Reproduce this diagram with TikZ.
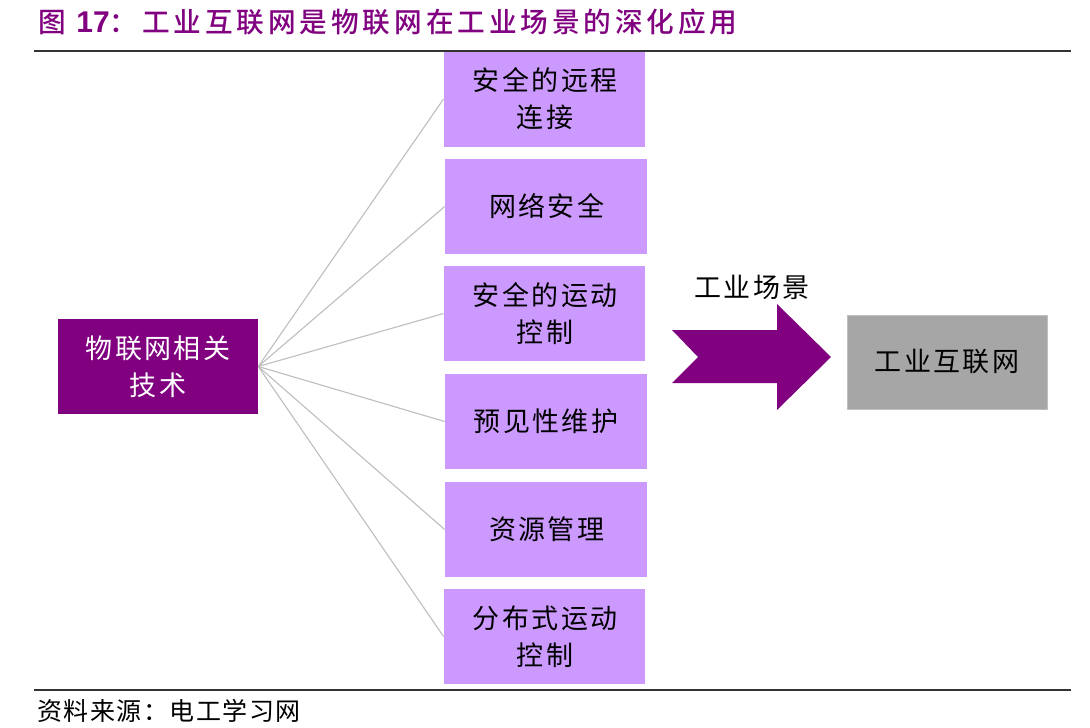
\documentclass[tikz,border=0pt]{standalone}
\usepackage{fontspec}
\setmainfont{Liberation Sans}
\newfontfamily\cjkbody[LetterSpace=9]{Noto Sans CJK SC}
\newfontfamily\cjktitle[LetterSpace=14]{Noto Sans CJK SC Medium}
\newfontfamily\cjkfoot[LetterSpace=6]{Noto Sans CJK SC}
\definecolor{deep}{HTML}{800080}
\definecolor{lilac}{HTML}{CC99FF}
\definecolor{midgrey}{HTML}{A6A6A6}
\definecolor{linkgrey}{HTML}{BFBFBF}
\definecolor{rulegrey}{HTML}{333333}
\tikzset{
  bodytext/.style={font=\cjkbody\fontsize{20.25pt}{27.6pt}\selectfont, align=center, text=black, inner sep=0pt},
  lilacbox/.style={fill=lilac, minimum width=151pt, minimum height=71.25pt, bodytext},
  widebox/.style={lilacbox, minimum width=151.6pt},
  link/.style={draw=linkgrey, line width=0.85pt},
  headrule/.style={draw=rulegrey, line width=1.1pt}
}
\begin{document}
\begin{tikzpicture}[x=0.75pt,y=-0.75pt]
\useasboundingbox (0,0) rectangle (1090,728);
\node[font=\fontsize{20.75pt}{24pt}\selectfont, text=deep, anchor=west, inner sep=0pt] (title) at (38,22)
  {{\cjktitle 图}\hspace{5pt}{\fontsize{22.5pt}{24pt}\selectfont\textbf{17}}{\cjktitle ：}\hspace{3.5pt}{\cjktitle 工业互联网是物联网在工业场景的深化应用}};
\coordinate (ruleAL) at (34,51); \coordinate (ruleAR) at (1071,51);
\draw[headrule] (ruleAL) -- (ruleAR);
\coordinate (ruleBL) at (34,690); \coordinate (ruleBR) at (1071,690);
\draw[headrule] (ruleBL) -- (ruleBR);

\node[fill=deep, minimum width=150pt, minimum height=71.25pt, bodytext, text=white] (src) at (158,366.5) {物联网相关\\技术};
\node[lilacbox] (b1) at (544.5,99) {\hspace{1pt}安全的远程\\\hspace{1pt}连接};
\node[widebox] (b2) at (546,206.5) {\hspace{1pt}网络安全};
\node[lilacbox] (b3) at (544.5,313.5) {\hspace{1pt}安全的运动\\\hspace{1pt}控制};
\node[widebox] (b4) at (546,421.5) {预见性维护};
\node[widebox] (b5) at (546,529.5) {\hspace{1pt}资源管理};
\node[lilacbox] (b6) at (544.5,636.5) {\hspace{1pt}分布式运动\\\hspace{1pt}控制};
\foreach \n in {b1,b2,b3,b4,b5,b6} \draw[link] (src.east) -- (\n.west);

\fill[deep] (672,330) -- (777,330) -- (777,304) -- (831,357) -- (777,410) -- (777,383) -- (672,383) -- (698,357) -- cycle;
\node[bodytext] (scene) at (752,287) {工业场景};
\node[fill=midgrey, draw=linkgrey, line width=0.5pt, minimum width=150pt, minimum height=70.5pt, bodytext] (tgt) at (947,362) {工业互联网};
\node[font=\cjkfoot\fontsize{18.75pt}{21pt}\selectfont, anchor=west, inner sep=0pt, text=black] (foot) at (37,711) {资料来源：电工学习网};
\end{tikzpicture}
\end{document}
